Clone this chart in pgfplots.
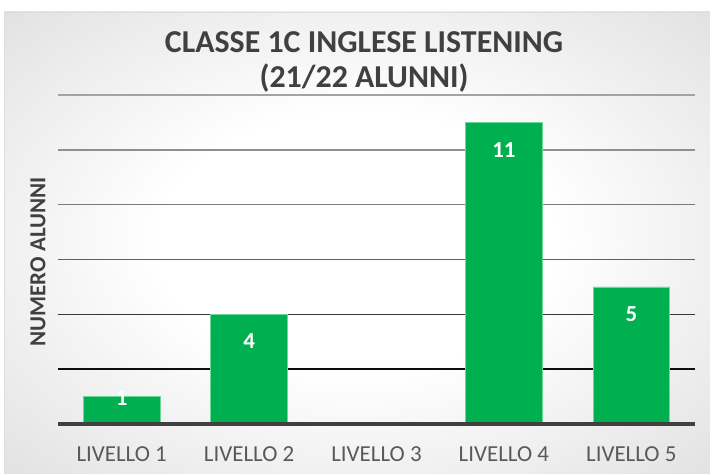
\documentclass[border=0pt]{standalone}
\usepackage{pgfplots}
\pgfplotsset{compat=1.18}
\usepackage{fontspec}
\setmainfont{Carlito}
\definecolor{titlegray}{HTML}{404040}
\definecolor{ticgray}{HTML}{595959}
\definecolor{barg}{HTML}{00B050}
\definecolor{baredge}{HTML}{6FD896}
\definecolor{edgegray}{HTML}{CECECE}
\definecolor{cornergray}{HTML}{C2C2C2}
\definecolor{framegray}{HTML}{DDDDDD}
\pgfdeclareradialshading{bgrad}{\pgfpoint{0bp}{0bp}}{color(0bp)=(white); color(14bp)=(white); color(50bp)=(edgegray); color(72bp)=(cornergray)}
\begin{document}
\begin{tikzpicture}[x=1bp,y=1bp]
\useasboundingbox (0,0) rectangle (710,474);
\shade[shading=bgrad] (4,0) rectangle (710,462);
\draw[color=framegray, line width=1bp] (4.5,0) -- (4.5,461.5) -- (710,461.5);
\node[font=\bfseries\fontsize{32}{38}\selectfont, text=titlegray] at (364,432) {CLASSE 1C INGLESE LISTENING};
\node[font=\bfseries\fontsize{32}{38}\selectfont, text=titlegray] at (364,396) {(21/22 ALUNNI)};
\node[rotate=90, font=\bfseries\fontsize{23}{27}\selectfont, text=titlegray] at (38,212) {NUMERO ALUNNI};
\begin{axis}[at={(58bp,50bp)}, anchor=south west, scale only axis,
  width=637bp, height=329bp,
  xmin=-0.5, xmax=4.5, ymin=0, ymax=12,
  axis line style={draw=none},
  xtick={0,1,2,3,4},
  xticklabels={LIVELLO 1,LIVELLO 2,LIVELLO 3,LIVELLO 4,LIVELLO 5},
  ytick=\empty,
  major tick length=0pt,
  xticklabel style={font=\fontsize{23}{27}\selectfont, text=ticgray, yshift=-19bp},
  clip=false]
\draw[color=black!95, line width=1.6bp] (axis cs:-0.5,2) -- (axis cs:4.5,2);
\draw[color=black!78, line width=1.6bp] (axis cs:-0.5,4) -- (axis cs:4.5,4);
\draw[color=black!62, line width=1.6bp] (axis cs:-0.5,6) -- (axis cs:4.5,6);
\draw[color=black!52, line width=1.6bp] (axis cs:-0.5,8) -- (axis cs:4.5,8);
\draw[color=black!44, line width=1.6bp] (axis cs:-0.5,10) -- (axis cs:4.5,10);
\draw[color=black!36, line width=1.6bp] (axis cs:-0.5,12) -- (axis cs:4.5,12);
\addplot[ybar, bar width=0.6, fill=barg, draw=baredge, line width=0.8bp]
  coordinates {(0,1) (1,4) (2,0) (3,11) (4,5)};
\addplot[only marks, mark=*, mark size=0pt, mark options={draw=none,fill=none},
  nodes near coords, point meta=explicit symbolic,
  every node near coord/.style={font=\bfseries\fontsize{23}{27}\selectfont, text=white, anchor=center}]
  coordinates {(0,0.95)[1] (1,3.03)[4] (3,9.99)[11] (4,4.01)[5]};
\draw[color=titlegray, line width=3.5bp] (axis cs:-0.5,0) -- (axis cs:4.5,0);
\end{axis}
\end{tikzpicture}
\end{document}
